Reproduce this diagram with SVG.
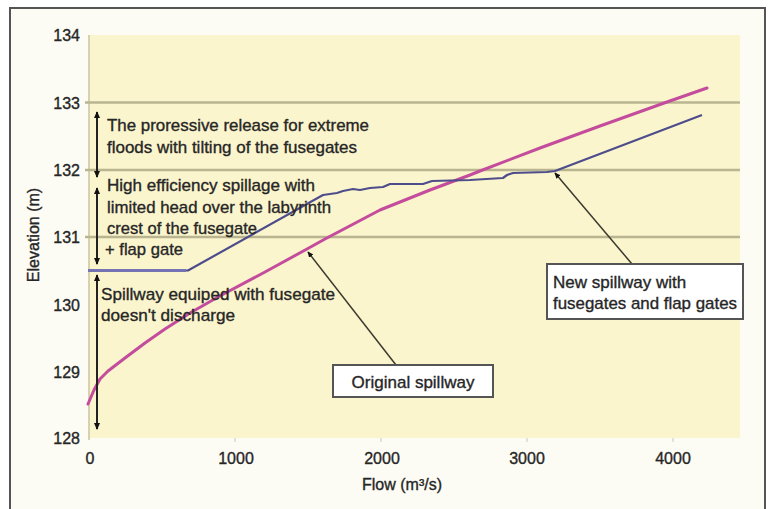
<svg xmlns="http://www.w3.org/2000/svg" width="773" height="509" viewBox="0 0 773 509">
  <defs>
    <style>
      .t { font-family: "Liberation Sans", Arial, sans-serif; fill: #262626; stroke: #262626; stroke-width: 0.35; }
      .ann { font-size: 17px; }
      .tick { font-size: 16px; text-anchor: end; }
      .xt { font-size: 16px; text-anchor: middle; }
      .grid { stroke: #b9b590; stroke-width: 2.4; fill: none; }
      .arr { stroke: #222; stroke-width: 2; fill: none; marker-start: url(#ah); marker-end: url(#ah); }
      .lead { stroke: #3a3a30; stroke-width: 1.5; fill: none; marker-end: url(#lh); }
      .box { fill: #ffffff; stroke: #555; stroke-width: 2; }
    </style>
    <marker id="ah" viewBox="0 0 8 8" refX="7" refY="4" markerWidth="7" markerHeight="7" markerUnits="userSpaceOnUse" orient="auto-start-reverse">
      <path d="M0,0.5 L8,4 L0,7.5 z" fill="#111"/>
    </marker>
    <marker id="lh" viewBox="0 0 8 8" refX="7" refY="4" markerWidth="6" markerHeight="6" markerUnits="userSpaceOnUse" orient="auto">
      <path d="M0,0.5 L8,4 L0,7.5 z" fill="#111"/>
    </marker>
  </defs>

  <rect x="0" y="0" width="773" height="509" fill="#ffffff"/>
  <rect id="frame" x="10" y="8" width="755" height="506" fill="#fdfcf4" stroke="#555" stroke-width="2"/>

  <g id="plot">
    <rect x="89" y="35" width="651" height="403" fill="#fbf5cd"/>
    <line x1="89" y1="35" x2="89" y2="440" stroke="#c9c59e" stroke-width="1.5"/>
    <line class="grid" x1="85" y1="102.5" x2="740" y2="102.5"/>
    <line class="grid" x1="85" y1="170" x2="740" y2="170"/>
    <line class="grid" x1="85" y1="237" x2="740" y2="237"/>
    <g stroke="#c8c8c0" stroke-width="1">
      <line x1="235" y1="438" x2="235" y2="442"/>
      <line x1="381" y1="438" x2="381" y2="442"/>
      <line x1="527" y1="438" x2="527" y2="442"/>
      <line x1="673" y1="438" x2="673" y2="442"/>
    </g>
  </g>

  <g id="axes-labels">
    <text class="t tick" x="80" y="41">134</text>
    <text class="t tick" x="80" y="108.5">133</text>
    <text class="t tick" x="80" y="176">132</text>
    <text class="t tick" x="80" y="243">131</text>
    <text class="t tick" x="80" y="310.5">130</text>
    <text class="t tick" x="80" y="378">129</text>
    <text class="t tick" x="80" y="444">128</text>
    <text class="t xt" x="90" y="464">0</text>
    <text class="t xt" x="236" y="464">1000</text>
    <text class="t xt" x="382" y="464">2000</text>
    <text class="t xt" x="527" y="464">3000</text>
    <text class="t xt" x="673" y="464">4000</text>
    <text class="t" x="402" y="490" font-size="16" text-anchor="middle">Flow (m³/s)</text>
    <text class="t" transform="translate(39,235) rotate(-90)" font-size="16" text-anchor="middle">Elevation (m)</text>
  </g>

  <g id="series">
    <polyline id="original-spillway-curve" fill="none" stroke="#c44c9c" stroke-width="3" stroke-linejoin="round" stroke-linecap="round"
      points="88,404 94,390 100,379 108,371 125,358 145,343 165,329 190,313 218,297 265,272 307,249 325,239 380,210 430,190 470,175 480,171 540,148 600,126 667,102 707,88"/>
    <polyline id="new-spillway-curve" fill="none" stroke="#4e4d8c" stroke-width="2.2" stroke-linejoin="round"
      points="88,270.5 188,270.5 323,195 337,193 343,191 353,189 360,190 370,188 383,187 390,184 423,184 432,181 470,180 503,178 507,175 513,173 547,172 555,171 702,115"/>
    <line x1="88" y1="270.5" x2="186" y2="270.5" stroke="#7473b4" stroke-width="3"/>
  </g>

  <g id="connectors">
    <line class="arr" x1="97" y1="112" x2="97" y2="177"/>
    <line class="arr" x1="97" y1="188" x2="97" y2="264"/>
    <line class="arr" x1="97" y1="275" x2="97" y2="429"/>
    <line class="lead" x1="396" y1="365" x2="308" y2="252"/>
    <line class="lead" x1="632" y1="264" x2="555" y2="173"/>
  </g>

  <g id="zone-extreme">
    <text class="t ann" x="107" y="131" textLength="262" lengthAdjust="spacingAndGlyphs">The proressive release for extreme</text>
    <text class="t ann" x="107" y="153" textLength="250" lengthAdjust="spacingAndGlyphs">floods with tilting of the fusegates</text>
  </g>
  <g id="zone-high-efficiency">
    <text class="t ann" x="107" y="191" textLength="208" lengthAdjust="spacingAndGlyphs">High efficiency spillage with</text>
    <text class="t ann" x="107" y="213" textLength="224" lengthAdjust="spacingAndGlyphs">limited head over the labyrinth</text>
    <text class="t ann" x="107" y="234" textLength="150" lengthAdjust="spacingAndGlyphs">crest of the fusegate</text>
    <text class="t ann" x="105" y="255" textLength="78" lengthAdjust="spacingAndGlyphs">+ flap gate</text>
  </g>
  <g id="zone-no-discharge">
    <text class="t ann" x="101" y="300" textLength="234" lengthAdjust="spacingAndGlyphs">Spillway equiped with fusegate</text>
    <text class="t ann" x="101" y="321" textLength="134" lengthAdjust="spacingAndGlyphs">doesn't discharge</text>
  </g>

  <g id="label-original">
    <rect class="box" x="333" y="365" width="160" height="32"/>
    <text class="t ann" x="413" y="388" text-anchor="middle">Original spillway</text>
  </g>
  <g id="label-new">
    <rect class="box" x="547" y="264" width="196" height="55"/>
    <text class="t ann" x="553" y="288">New spillway with</text>
    <text class="t ann" x="553" y="309" textLength="184" lengthAdjust="spacingAndGlyphs">fusegates and flap gates</text>
  </g>
</svg>
